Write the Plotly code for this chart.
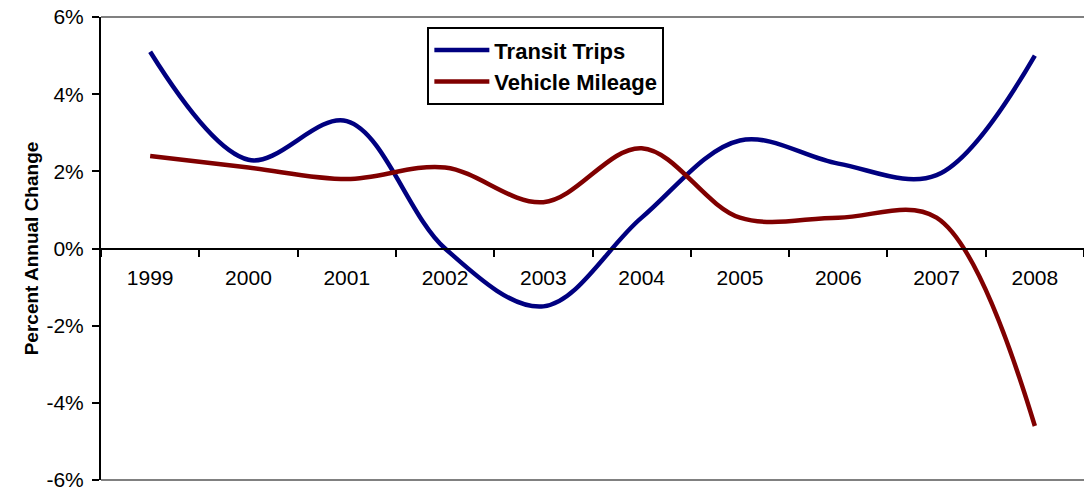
"""Transit trips vs vehicle mileage, annual change"""

import plotly.graph_objects as go

YEARS = ["1999", "2000", "2001", "2002", "2003", "2004", "2005", "2006", "2007", "2008"]
TRANSIT_TRIPS = [5.1, 2.3, 3.3, 0.0, -1.5, 0.8, 2.8, 2.2, 1.9, 5.0]
VEHICLE_MILEAGE = [2.4, 2.1, 1.8, 2.1, 1.2, 2.6, 0.8, 0.8, 0.8, -4.6]

Y_TICKS = [-6, -4, -2, 0, 2, 4, 6]
Y_TICK_TEXT = ["-6%", "-4%", "-2%", "0%", "2%", "4%", "6%"]

FONT = "Arial, Liberation Sans, sans-serif"

fig = go.Figure()

fig.add_trace(
    go.Scatter(
        x=YEARS,
        y=TRANSIT_TRIPS,
        mode="lines",
        name="<b>Transit Trips</b>",
        line=dict(color="#000080", width=4.5, shape="spline", smoothing=1.0),
    )
)
fig.add_trace(
    go.Scatter(
        x=YEARS,
        y=VEHICLE_MILEAGE,
        mode="lines",
        name="<b>Vehicle Mileage</b>",
        line=dict(color="#800000", width=4.5, shape="spline", smoothing=1.0),
    )
)

# ── 플롯 영역 위/아래 회색 테두리 ─────────────────────
for edge in (0, 1):
    fig.add_shape(
        type="line",
        xref="paper",
        yref="paper",
        x0=0,
        x1=1,
        y0=edge,
        y1=edge,
        line=dict(color="#808080", width=2),
        layer="below",
    )

fig.update_layout(
    width=1084,
    height=487,
    margin=dict(l=101, r=0, t=17, b=7, autoexpand=False),
    plot_bgcolor="white",
    paper_bgcolor="white",
    font=dict(family=FONT, color="black", size=21),
    showlegend=True,
    legend=dict(
        x=0.332,
        y=0.978,
        xanchor="left",
        yanchor="top",
        bordercolor="black",
        borderwidth=2,
        bgcolor="white",
        font=dict(size=22, family=FONT),
        itemwidth=55,
        tracegroupgap=0,
    ),
    xaxis=dict(
        type="category",
        range=[-0.5, 9.5],
        anchor="free",
        position=0.5,
        showline=True,
        linecolor="black",
        linewidth=2,
        ticks="outside",
        tickson="boundaries",
        ticklen=7,
        tickwidth=2,
        tickcolor="black",
        ticklabelstandoff=10,
        showgrid=False,
        zeroline=False,
    ),
    yaxis=dict(
        range=[-6, 6],
        tickvals=Y_TICKS,
        ticktext=Y_TICK_TEXT,
        showline=True,
        linecolor="black",
        linewidth=2,
        ticks="outside",
        ticklen=7,
        tickwidth=2,
        tickcolor="black",
        ticklabelstandoff=4,
        ticklabeloverflow="allow",
        showgrid=False,
        zeroline=False,
        title=dict(
            text="<b>Percent Annual Change</b>",
            font=dict(size=19, family=FONT),
            standoff=3,
        ),
    ),
)

# 페이지 기본 여백 제거
fig.write_html(
    "out.html",
    config={"displayModeBar": False},
    post_script="document.body.style.margin = '0';",
)
